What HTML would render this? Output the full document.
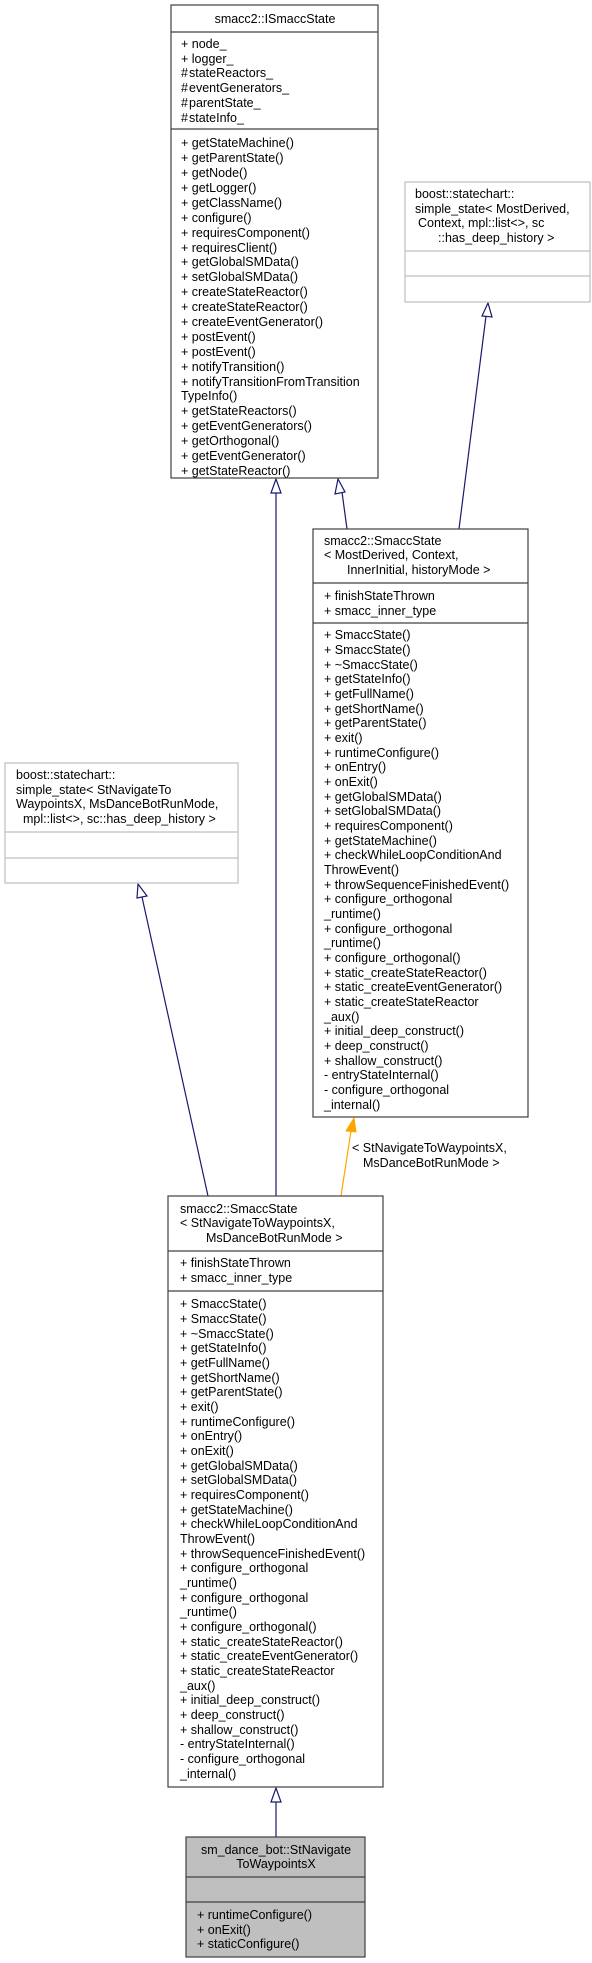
<!DOCTYPE html>
<html><head><meta charset="utf-8"><style>
html,body{margin:0;padding:0;background:#fff}
svg{display:block}
text{font-family:"Liberation Sans",sans-serif;font-size:12.5px;fill:#000}
</style></head><body>
<svg width="592" height="1963" viewBox="0 0 592 1963" xmlns="http://www.w3.org/2000/svg">
<defs>
<marker id="ah" markerWidth="12" markerHeight="12" refX="0" refY="5" orient="auto" markerUnits="userSpaceOnUse">
</marker>
</defs>
<!-- edges -->
<g fill="none" stroke="#191970" stroke-width="1.2">
<line x1="276" y1="1196" x2="276" y2="492"/>
<line x1="347" y1="529" x2="342" y2="492"/>
<line x1="459" y1="529" x2="486" y2="316"/>
<line x1="208" y1="1196" x2="142" y2="897"/>
<line x1="276" y1="1837" x2="276" y2="1801"/>
</g>
<g fill="#fff" stroke="#191970" stroke-width="1.2">
<polygon points="276,479 271,493 281,493"/>
<polygon points="338,479 335,494 345,492"/>
<polygon points="488,303 482,316 492,317"/>
<polygon points="138,884 137,898 147,896"/>
<polygon points="276,1788 271,1802 281,1802"/>
</g>
<line x1="341" y1="1196" x2="351" y2="1131" stroke="#ffa500" stroke-width="1.2"/>
<polygon points="354,1118 346,1131 356,1132" fill="#ffa500" stroke="#ffa500"/>
<text x="352" y="1152">&lt; StNavigateToWaypointsX,</text>
<text x="363" y="1167">MsDanceBotRunMode &gt;</text>

<!-- ISmaccState -->
<g stroke="#404040" stroke-width="1.2" fill="#fff">
<rect x="171" y="5" width="207" height="473"/>
<line x1="171" y1="32" x2="378" y2="32"/>
<line x1="171" y1="129" x2="378" y2="129"/>
</g>
<text x="275" y="23" text-anchor="middle">smacc2::ISmaccState</text>
<g>
<text x="181" y="48">+ node_</text>
<text x="181" y="63">+ logger_</text>
<text x="181" y="77">#&#8202;stateReactors_</text>
<text x="181" y="92">#&#8202;eventGenerators_</text>
<text x="181" y="107">#&#8202;parentState_</text>
<text x="181" y="122">#&#8202;stateInfo_</text>
</g>
<g>
<text x="181" y="147">+ getStateMachine()</text>
<text x="181" y="162">+ getParentState()</text>
<text x="181" y="177">+ getNode()</text>
<text x="181" y="192">+ getLogger()</text>
<text x="181" y="207">+ getClassName()</text>
<text x="181" y="222">+ configure()</text>
<text x="181" y="237">+ requiresComponent()</text>
<text x="181" y="252">+ requiresClient()</text>
<text x="181" y="266">+ getGlobalSMData()</text>
<text x="181" y="281">+ setGlobalSMData()</text>
<text x="181" y="296">+ createStateReactor()</text>
<text x="181" y="311">+ createStateReactor()</text>
<text x="181" y="326">+ createEventGenerator()</text>
<text x="181" y="341">+ postEvent()</text>
<text x="181" y="356">+ postEvent()</text>
<text x="181" y="371">+ notifyTransition()</text>
<text x="181" y="386">+ notifyTransitionFromTransition</text>
<text x="181" y="400">TypeInfo()</text>
<text x="181" y="415">+ getStateReactors()</text>
<text x="181" y="430">+ getEventGenerators()</text>
<text x="181" y="445">+ getOrthogonal()</text>
<text x="181" y="460">+ getEventGenerator()</text>
<text x="181" y="475">+ getStateReactor()</text>
</g>

<!-- boost right -->
<g stroke="#bfbfbf" stroke-width="1.2" fill="#fff">
<rect x="405" y="182" width="185" height="120"/>
<line x1="405" y1="251" x2="590" y2="251"/>
<line x1="405" y1="276" x2="590" y2="276"/>
</g>
<text x="415" y="198">boost::statechart::</text>
<text x="415" y="213">simple_state&lt; MostDerived,</text>
<text x="418" y="227">Context, mpl::list&lt;&gt;, sc</text>
<text x="438" y="242">::has_deep_history &gt;</text>

<!-- boost left -->
<g stroke="#bfbfbf" stroke-width="1.2" fill="#fff">
<rect x="5" y="763" width="233" height="120"/>
<line x1="5" y1="832" x2="238" y2="832"/>
<line x1="5" y1="858" x2="238" y2="858"/>
</g>
<text x="16" y="779">boost::statechart::</text>
<text x="16" y="794">simple_state&lt; StNavigateTo</text>
<text x="16" y="808">WaypointsX, MsDanceBotRunMode,</text>
<text x="23" y="823">mpl::list&lt;&gt;, sc::has_deep_history &gt;</text>

<!-- generic SmaccState -->
<g stroke="#404040" stroke-width="1.2" fill="#fff">
<rect x="313" y="529" width="215" height="588"/>
<line x1="313" y1="583" x2="528" y2="583"/>
<line x1="313" y1="623" x2="528" y2="623"/>
</g>
<text x="324" y="545">smacc2::SmaccState</text>
<text x="324" y="559">&lt; MostDerived, Context,</text>
<text x="347" y="574">InnerInitial, historyMode &gt;</text>
<text x="324" y="600">+ finishStateThrown</text>
<text x="324" y="615">+ smacc_inner_type</text>
<g id="m1">
<text x="324" y="639">+ SmaccState()</text>
<text x="324" y="654">+ SmaccState()</text>
<text x="324" y="669">+ ~SmaccState()</text>
<text x="324" y="683">+ getStateInfo()</text>
<text x="324" y="698">+ getFullName()</text>
<text x="324" y="713">+ getShortName()</text>
<text x="324" y="727">+ getParentState()</text>
<text x="324" y="742">+ exit()</text>
<text x="324" y="757">+ runtimeConfigure()</text>
<text x="324" y="771">+ onEntry()</text>
<text x="324" y="786">+ onExit()</text>
<text x="324" y="801">+ getGlobalSMData()</text>
<text x="324" y="815">+ setGlobalSMData()</text>
<text x="324" y="830">+ requiresComponent()</text>
<text x="324" y="845">+ getStateMachine()</text>
<text x="324" y="859">+ checkWhileLoopConditionAnd</text>
<text x="324" y="874">ThrowEvent()</text>
<text x="324" y="889">+ throwSequenceFinishedEvent()</text>
<text x="324" y="903">+ configure_orthogonal</text>
<text x="324" y="918">_runtime()</text>
<text x="324" y="933">+ configure_orthogonal</text>
<text x="324" y="947">_runtime()</text>
<text x="324" y="962">+ configure_orthogonal()</text>
<text x="324" y="977">+ static_createStateReactor()</text>
<text x="324" y="991">+ static_createEventGenerator()</text>
<text x="324" y="1006">+ static_createStateReactor</text>
<text x="324" y="1021">_aux()</text>
<text x="324" y="1035">+ initial_deep_construct()</text>
<text x="324" y="1050">+ deep_construct()</text>
<text x="324" y="1065">+ shallow_construct()</text>
<text x="324" y="1079">- entryStateInternal()</text>
<text x="324" y="1094">- configure_orthogonal</text>
<text x="324" y="1109">_internal()</text>
</g>

<!-- middle SmaccState -->
<g stroke="#404040" stroke-width="1.2" fill="#fff">
<rect x="168" y="1196" width="215" height="591"/>
<line x1="168" y1="1251" x2="383" y2="1251"/>
<line x1="168" y1="1291" x2="383" y2="1291"/>
</g>
<text x="180" y="1213">smacc2::SmaccState</text>
<text x="180" y="1227">&lt; StNavigateToWaypointsX,</text>
<text x="206" y="1242">MsDanceBotRunMode &gt;</text>
<text x="180" y="1267">+ finishStateThrown</text>
<text x="180" y="1282">+ smacc_inner_type</text>
<use href="#m1" transform="translate(-144,669)"/>

<!-- bottom -->
<g stroke="#404040" stroke-width="1.2" fill="#bfbfbf">
<rect x="186" y="1837" width="179" height="120"/>
<line x1="186" y1="1877" x2="365" y2="1877"/>
<line x1="186" y1="1902" x2="365" y2="1902"/>
</g>
<text x="276" y="1854" text-anchor="middle">sm_dance_bot::StNavigate</text>
<text x="276" y="1868" text-anchor="middle">ToWaypointsX</text>
<text x="197" y="1919">+ runtimeConfigure()</text>
<text x="197" y="1934">+ onExit()</text>
<text x="197" y="1948">+ staticConfigure()</text>
</svg>
</body></html>
